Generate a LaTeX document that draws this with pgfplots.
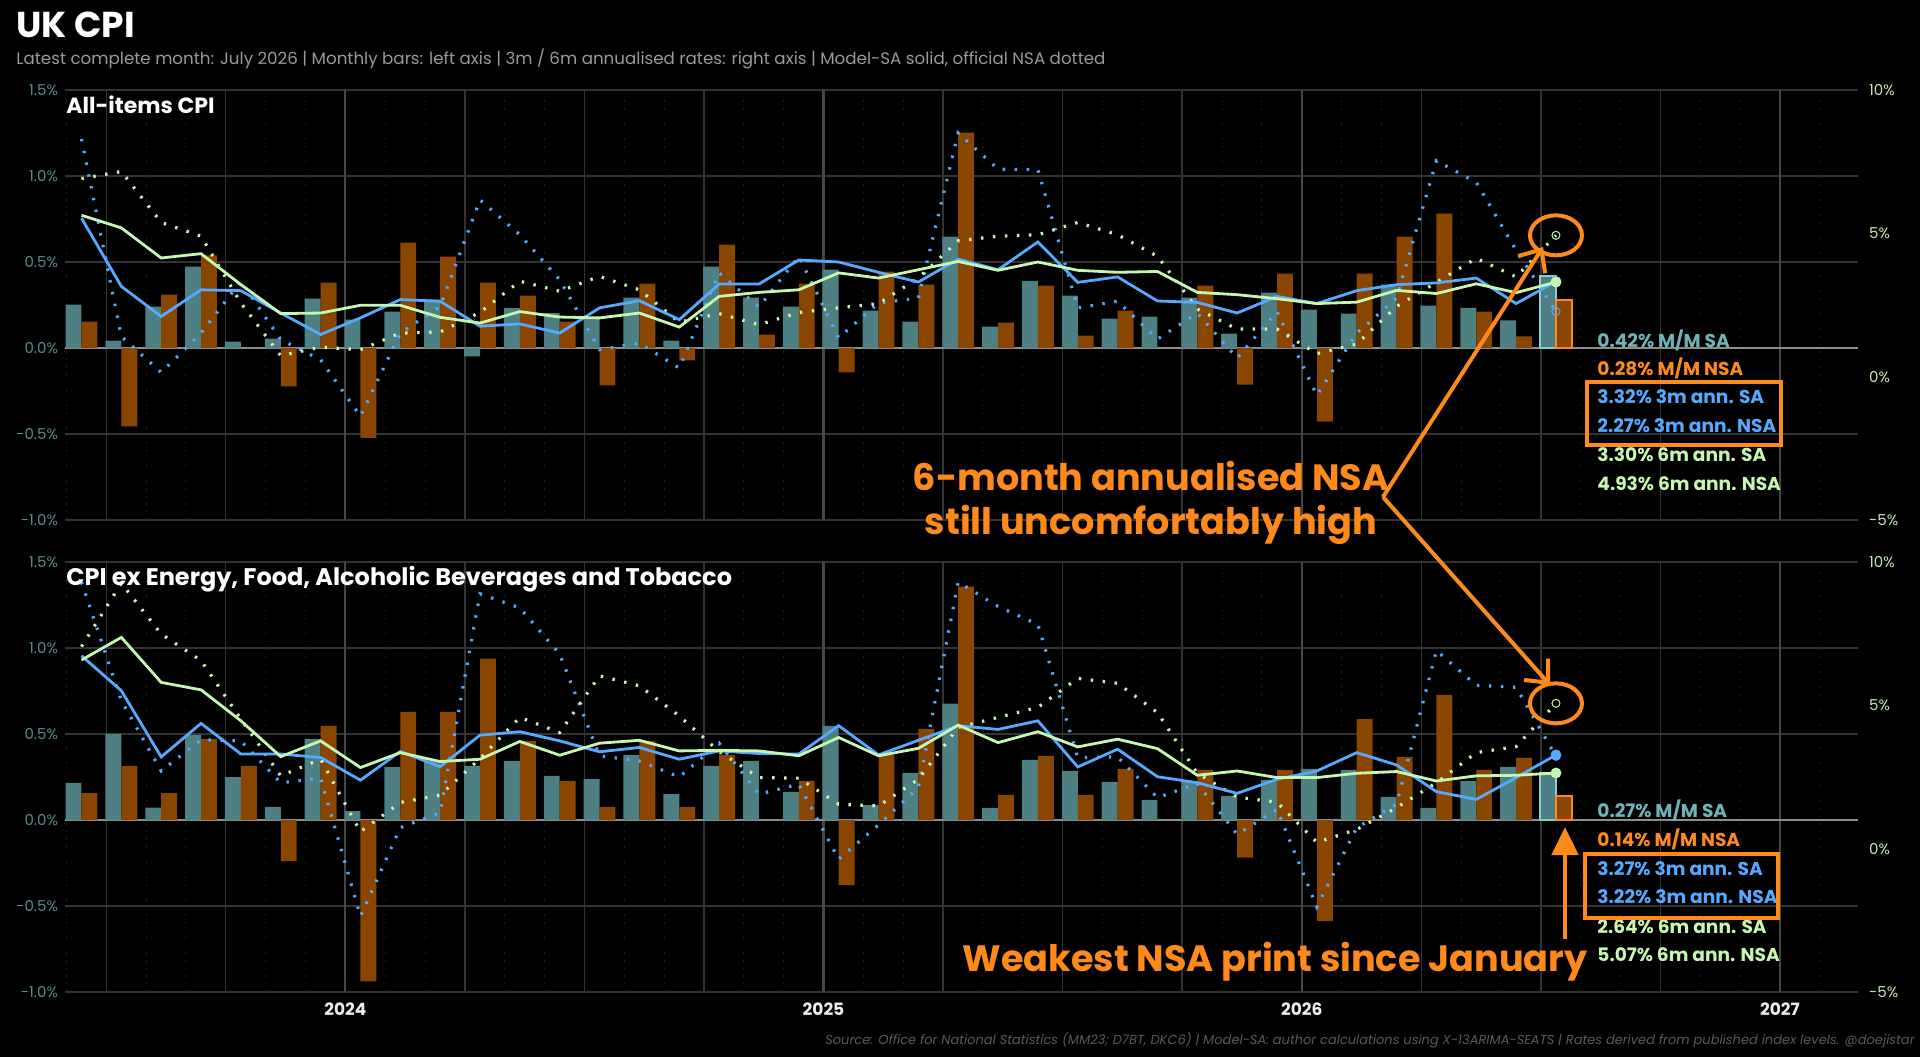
\documentclass[border=0pt]{standalone}
\usepackage{fontspec}
\setmainfont{Poppins}
\usepackage{pgfplots}
\pgfplotsset{compat=1.18}
\usepackage{pgfplotstable}
\usetikzlibrary{arrows.meta}

\definecolor{sacol}{HTML}{4E7F83}
\definecolor{nsacol}{HTML}{8A4500}
\definecolor{bluel}{HTML}{55AAFF}
\definecolor{greenl}{HTML}{C5F7B0}
\definecolor{annor}{HTML}{FF8A1C}
\definecolor{labteal}{HTML}{6FB3BA}
\definecolor{lefttick}{HTML}{5B8A8E}
\definecolor{righttick}{HTML}{C8EBB6}
\definecolor{gridc}{HTML}{333333}
\definecolor{mgridc}{HTML}{1F1F1F}
\definecolor{yearc}{HTML}{464646}
\definecolor{zeroc}{HTML}{8E8E8E}
\definecolor{subc}{HTML}{9A9A9A}
\definecolor{footc}{HTML}{5A5A5A}
\definecolor{outcy}{HTML}{86CDD4}
\definecolor{yearlab}{HTML}{EDEDED}

\newcommand{\labfont}{\fontsize{9.3}{11}\selectfont\bfseries}
\newcommand{\bigfont}{\fontsize{18.3}{22}\selectfont\bfseries}
\newcommand{\tickfont}{\fontsize{7.5}{9}\selectfont}

% All-items CPI
\pgfplotstableread{
m sa nsa t3 t3n s6 s6n
0 0.252 0.153 5.53 8.29 5.63 6.91
1 0.043 -0.455 3.15 1.40 5.19 7.16
2 0.240 0.310 2.10 0.15 4.14 5.38
3 0.473 0.539 3.03 1.52 4.29 4.90
4 0.037 0.000 3.00 3.33 3.21 2.57
5 0.054 -0.223 2.22 1.29 2.20 0.73
6 0.287 0.380 1.47 0.59 2.22 1.03
7 0.165 -0.523 2.05 -1.38 2.49 0.94
8 0.211 0.612 2.69 1.52 2.49 1.52
9 0.281 0.531 2.63 2.45 2.07 1.56
10 -0.048 0.380 1.76 6.17 1.87 2.24
11 0.234 0.304 1.84 4.95 2.27 3.33
12 0.203 0.153 1.52 3.38 2.08 2.98
13 0.174 -0.217 2.40 0.94 2.05 3.50
14 0.293 0.374 2.65 1.17 2.22 3.03
15 0.043 -0.072 1.99 0.30 1.73 1.90
16 0.473 0.601 3.23 3.62 2.80 2.20
17 0.293 0.078 3.23 2.43 2.94 1.81
18 0.240 0.374 4.07 4.20 3.03 2.24
19 0.455 -0.141 4.00 1.36 3.62 2.40
20 0.217 0.444 3.64 2.57 3.44 2.55
21 0.153 0.368 3.30 2.74 3.73 3.44
22 0.647 1.252 4.10 8.50 4.02 4.74
23 0.124 0.147 3.73 7.24 3.71 4.90
24 0.391 0.362 4.70 7.22 4.00 4.95
25 0.304 0.072 3.29 2.40 3.71 5.38
26 0.171 0.217 3.48 2.63 3.64 4.95
27 0.182 0.000 2.64 1.31 3.67 4.20
28 0.293 0.362 2.59 2.22 2.94 2.36
29 0.083 -0.213 2.22 0.65 2.86 1.66
30 0.322 0.432 2.80 2.27 2.72 1.66
31 0.223 -0.428 2.55 -0.65 2.55 0.80
32 0.200 0.432 3.00 1.52 2.60 1.14
33 0.368 0.647 3.21 2.74 3.01 2.45
34 0.246 0.781 3.27 7.53 2.90 3.29
35 0.234 0.211 3.44 6.78 3.24 4.13
36 0.161 0.068 2.55 4.41 2.93 3.48
37 0.420 0.280 3.32 2.27 3.30 4.93
}\tabA

% CPI ex energy, food, alcohol and tobacco
\pgfplotstableread{
m sa nsa t3 t3n s6 s6n
0 0.216 0.157 6.73 9.30 6.58 7.05
1 0.501 0.315 5.51 5.16 7.37 9.26
2 0.072 0.157 3.20 2.71 5.80 7.49
3 0.495 0.472 4.37 3.80 5.54 6.56
4 0.250 0.315 3.30 3.76 4.46 4.52
5 0.076 -0.239 3.30 2.30 3.21 2.54
6 0.472 0.548 3.18 2.46 3.76 3.12
7 0.052 -0.938 2.39 -2.36 2.83 0.59
8 0.309 0.629 3.39 0.73 3.35 1.61
9 0.344 0.629 2.86 1.26 3.04 1.87
10 0.315 0.938 3.96 8.89 3.12 3.14
11 0.344 0.460 4.08 8.40 3.74 4.58
12 0.256 0.227 3.76 6.79 3.26 4.05
13 0.239 0.076 3.38 3.24 3.68 6.03
14 0.379 0.460 3.53 3.06 3.78 5.68
15 0.151 0.076 3.12 2.50 3.41 4.63
16 0.315 0.379 3.41 3.68 3.43 3.39
17 0.344 0.000 3.32 1.90 3.41 2.48
18 0.163 0.227 3.30 2.25 3.24 2.46
19 0.548 -0.379 4.29 -0.37 3.88 1.55
20 0.087 0.379 3.27 0.83 3.24 1.49
21 0.274 0.530 3.78 2.13 3.50 2.42
22 0.676 1.357 4.29 9.30 4.31 4.23
23 0.070 0.146 4.16 8.45 3.70 4.58
24 0.350 0.373 4.46 7.82 4.08 4.93
25 0.285 0.146 2.85 3.18 3.55 5.94
26 0.221 0.297 3.47 3.20 3.82 5.77
27 0.117 0.000 2.51 1.78 3.49 4.75
28 0.221 0.291 2.30 2.27 2.56 2.63
29 0.140 -0.219 1.93 0.50 2.71 1.80
30 0.233 0.291 2.42 1.37 2.48 1.62
31 0.297 -0.588 2.71 -2.03 2.48 0.22
32 0.291 0.588 3.35 0.73 2.63 0.67
33 0.134 0.367 2.92 1.55 2.69 1.43
34 0.070 0.728 1.99 6.91 2.36 2.30
35 0.227 0.291 1.72 5.70 2.54 3.35
36 0.309 0.361 2.48 5.63 2.56 3.56
37 0.270 0.140 3.27 3.22 2.64 5.07
}\tabB

\pgfplotsset{
  leftpanel/.style={
    scale only axis, width=896.5pt, height=215pt, anchor=south west,
    xmin=-0.414, xmax=44.58, ymin=-1, ymax=1.5,
    axis line style={draw=none}, tick style={draw=none},
    ytick={-1,-0.5,0,0.5,1,1.5},
    yticklabels={-1.0\%,-0.5\%,0.0\%,0.5\%,1.0\%,1.5\%},
    yticklabel style={font=\tickfont, text=lefttick},
    ymajorgrids, major grid style={gridc, line width=0.7pt},
  },
  rightpanel/.style={
    scale only axis, width=896.5pt, height=215pt, anchor=south west,
    xmin=-0.414, xmax=44.58, ymin=-5, ymax=10,
    axis x line=none, axis y line*=right, axis line style={draw=none},
    tick style={draw=none},
    ytick={-5,0,5,10}, yticklabels={-5\%,0\%,5\%,10\%},
    yticklabel style={font=\tickfont, text=righttick, xshift=2pt},
  },
}
\tikzset{
  mgrid/.style={mgridc, line width=0.5pt, dash pattern=on 0.8pt off 3pt},
  qgrid/.style={gridc, line width=0.7pt},
  ygrid/.style={yearc, line width=1.1pt},
  nsadot/.style={line width=1.6pt, dash pattern=on 1.2pt off 4.8pt},
  saline/.style={line width=1.4pt},
}

\newcommand{\panelgrid}{%
  \pgfplotsinvokeforeach{-0.38,0.62,...,44.2}{\draw[mgrid] (axis cs:##1,-1) -- (axis cs:##1,1.5);}
  \pgfplotsinvokeforeach{0.62,3.62,...,44}{\draw[qgrid] (axis cs:##1,-1) -- (axis cs:##1,1.5);}
  \pgfplotsinvokeforeach{6.62,18.62,30.62,42.62}{\draw[ygrid] (axis cs:##1,-1) -- (axis cs:##1,1.5);}
  \draw[zeroc, line width=0.8pt] (axis cs:-0.414,0) -- (axis cs:44.58,0);
}

\newcommand{\panelbars}[3]{%
  \addplot[ybar, bar width=0.4, bar shift=0pt, fill=sacol, draw=none] table[x expr=\thisrow{m}-0.2, y=sa] {#1};
  \addplot[ybar, bar width=0.4, bar shift=0pt, fill=nsacol, draw=none] table[x expr=\thisrow{m}+0.2, y=nsa] {#1};
  \addplot[ybar, bar width=0.4, bar shift=0pt, fill=sacol, draw=outcy, line width=1.2pt] coordinates {(36.8,#2)};
  \addplot[ybar, bar width=0.4, bar shift=0pt, fill=nsacol, draw=annor, line width=1.2pt] coordinates {(37.2,#3)};
}

\newcommand{\panellines}[5]{%
  \addplot[bluel, nsadot] table[x=m, y=t3n] {#1};
  \addplot[greenl, nsadot] table[x=m, y=s6n] {#1};
  \addplot[bluel, saline] table[x=m, y=t3] {#1};
  \addplot[greenl, saline] table[x=m, y=s6] {#1};
  \addplot[only marks, mark=*, mark size=2.5pt, bluel] coordinates {(37,#2)};
  \addplot[only marks, mark=*, mark size=2.5pt, greenl] coordinates {(37,#4)};
  \addplot[only marks, mark=o, mark size=2pt, bluel, line width=0.5pt] coordinates {(37,#3)};
  \addplot[only marks, mark=o, mark size=2pt, greenl, line width=0.5pt] coordinates {(37,#5)};
  \draw[annor, line width=2pt] (axis cs:37,#5) ellipse [x radius=13pt, y radius=10pt];
}

\begin{document}
\begin{tikzpicture}
\fill[black] (0,0) rectangle (960pt,528.5pt);
\useasboundingbox (0,0) rectangle (960pt,528.5pt);

% ---------- top panel ----------
\begin{axis}[leftpanel, at={(32.5pt,268.5pt)}, xtick=\empty]
  \panelgrid
  \panelbars{\tabA}{0.42}{0.28}
\end{axis}
\begin{axis}[rightpanel, at={(32.5pt,268.5pt)}]
  \panellines{\tabA}{3.32}{2.27}{3.30}{4.93}
\end{axis}

% ---------- bottom panel ----------
\begin{axis}[leftpanel, at={(32.5pt,32.5pt)},
  xtick={6.62,18.62,30.62,42.62}, xticklabels={2024,2025,2026,2027},
  xticklabel style={font=\fontsize{8.5}{10}\selectfont\bfseries, text=yearlab, yshift=-2pt}]
  \panelgrid
  \panelbars{\tabB}{0.27}{0.14}
\end{axis}
\begin{axis}[rightpanel, at={(32.5pt,32.5pt)}]
  \panellines{\tabB}{3.27}{3.22}{2.64}{5.07}
\end{axis}

% ---------- titles ----------
\node[anchor=base west, inner sep=0, text=white, font=\fontsize{18}{20}\selectfont\bfseries] at (8pt,509.5pt) {UK CPI};
\node[anchor=base west, inner sep=0, text=subc, font=\fontsize{8.35}{10}\selectfont] at (8pt,496pt) {Latest complete month: July 2026 | Monthly bars: left axis | 3m / 6m annualised rates: right axis | Model-SA solid, official NSA dotted};
\node[anchor=base west, inner sep=0, text=white, font=\fontsize{11}{13}\selectfont\bfseries] at (33pt,471.5pt) {All-items CPI};
\node[anchor=base west, inner sep=0, text=white, font=\fontsize{12}{14}\selectfont\bfseries] at (33pt,236pt) {CPI ex Energy, Food, Alcoholic Beverages and Tobacco};

% ---------- value labels, top ----------
\node[anchor=base west, inner sep=0, text=labteal, font=\labfont] at (798.5pt,355pt) {0.42\% M/M SA};
\node[anchor=base west, inner sep=0, text=annor, font=\labfont] at (798.5pt,341pt) {0.28\% M/M NSA};
\node[anchor=base west, inner sep=0, text=bluel, font=\labfont] at (798.5pt,327pt) {3.32\% 3m ann. SA};
\node[anchor=base west, inner sep=0, text=bluel, font=\labfont] at (798.5pt,312.5pt) {2.27\% 3m ann. NSA};
\node[anchor=base west, inner sep=0, text=greenl, font=\labfont] at (798.5pt,298pt) {3.30\% 6m ann. SA};
\node[anchor=base west, inner sep=0, text=greenl, font=\labfont] at (798.5pt,283.5pt) {4.93\% 6m ann. NSA};
\draw[annor, line width=2pt] (793.5pt,337.5pt) rectangle (890.5pt,306pt);

% ---------- value labels, bottom ----------
\node[anchor=base west, inner sep=0, text=labteal, font=\labfont] at (798.5pt,120pt) {0.27\% M/M SA};
\node[anchor=base west, inner sep=0, text=annor, font=\labfont] at (798.5pt,105.5pt) {0.14\% M/M NSA};
\node[anchor=base west, inner sep=0, text=bluel, font=\labfont] at (798.5pt,91pt) {3.27\% 3m ann. SA};
\node[anchor=base west, inner sep=0, text=bluel, font=\labfont] at (798.5pt,77pt) {3.22\% 3m ann. NSA};
\node[anchor=base west, inner sep=0, text=greenl, font=\labfont] at (798.5pt,62pt) {2.64\% 6m ann. SA};
\node[anchor=base west, inner sep=0, text=greenl, font=\labfont] at (798.5pt,48pt) {5.07\% 6m ann. NSA};
\draw[annor, line width=2pt] (792.5pt,101.5pt) rectangle (889pt,69.5pt);

% ---------- callouts ----------
\node[anchor=base, inner sep=0, text=annor, font=\bigfont] at (575.5pt,283.5pt) {6-month annualised NSA};
\node[anchor=base, inner sep=0, text=annor, font=\bigfont] at (575.5pt,261.5pt) {still uncomfortably high};
\draw[annor, line width=2pt, -{Straight Barb[length=9pt,width=16pt]}] (691.5pt,280pt) -- (771.5pt,405pt);
\draw[annor, line width=2pt, -{Straight Barb[length=9pt,width=16pt]}] (691.5pt,280pt) -- (775pt,186pt);
\node[anchor=base, inner sep=0, text=annor, font=\bigfont] at (637.5pt,43pt) {Weakest NSA print since January};
\draw[annor, line width=2.3pt, -{Triangle[length=14pt,width=13pt]}] (782.5pt,59pt) -- (782.5pt,115pt);

% ---------- footer ----------
\node[anchor=base east, inner sep=0, text=footc, font=\fontsize{6.5}{8}\selectfont\itshape] at (957.5pt,6.5pt) {Source: Office for National Statistics (MM23; D7BT, DKC6) | Model-SA: author calculations using X-13ARIMA-SEATS | Rates derived from published index levels. @doejistar};
\end{tikzpicture}
\end{document}
